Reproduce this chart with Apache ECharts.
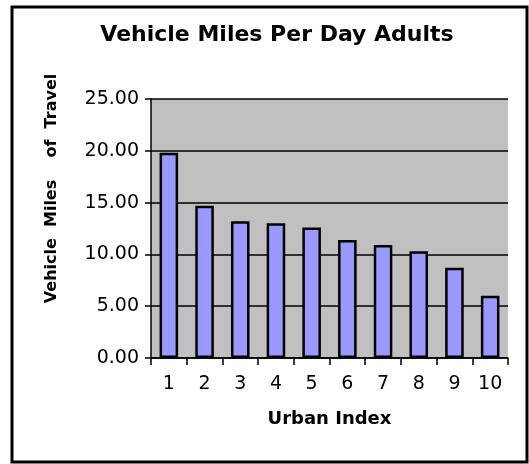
<!DOCTYPE html>
<html>
<head>
<meta charset="utf-8">
<script src="https://cdn.jsdelivr.net/npm/echarts@6/dist/echarts.min.js"></script>
<style>
    html, body { margin: 0; padding: 0; background: #fff; }
    #main { width: 529px; height: 464px; }
</style>
</head>
<body>
<div id="main"></div>
<script>
    var categories = ['1', '2', '3', '4', '5', '6', '7', '8', '9', '10'];
    var milesPerDay = [19.8, 14.7, 13.2, 13.0, 12.6, 11.4, 10.9, 10.3, 8.7, 6.0];
    var yTicks = [0, 5, 10, 15, 20, 25];

    var chart = echarts.init(document.getElementById('main'));

    var font = 'DejaVu Sans, Arial';

    var option = {
        backgroundColor: '#fff',
        animation: false,
        title: {
            text: 'Vehicle Miles Per Day Adults',
            left: 272,
            top: 19,
            textAlign: 'center',
            textStyle: {
                fontFamily: font,
                fontWeight: 'bold',
                fontSize: 22,
                color: '#000'
            }
        },
        graphic: [{
            type: 'rect',
            shape: { x: 12, y: 7, width: 515, height: 455 },
            style: { fill: 'none', stroke: '#000', lineWidth: 3 },
            z: 100
        }],
        grid: {
            left: 151,
            right: 21,
            top: 99,
            bottom: 106,
            show: true,
            backgroundColor: '#c0c0c0',
            borderWidth: 0
        },
        xAxis: {
            type: 'category',
            data: categories,
            name: 'Urban Index',
            nameLocation: 'middle',
            nameGap: 52,
            nameTextStyle: {
                fontFamily: font,
                fontWeight: 'bold',
                fontSize: 18,
                color: '#000'
            },
            axisLine: { lineStyle: { color: '#000', width: 1.5 } },
            axisTick: { show: true, length: 7, lineStyle: { color: '#000', width: 1.5 } },
            axisLabel: {
                margin: 17,
                fontFamily: font,
                fontSize: 19,
                color: '#000'
            }
        },
        yAxis: {
            type: 'value',
            min: yTicks[0],
            max: yTicks[yTicks.length - 1],
            interval: 5,
            name: 'Vehicle  Miles    of  Travel',
            nameLocation: 'middle',
            nameGap: 91,
            nameTextStyle: {
                fontFamily: font,
                fontWeight: 'bold',
                fontSize: 16,
                color: '#000',
                // nudge the rotated name upwards, as in the original
                padding: [0, 0, 0, 80]
            },
            axisLine: { show: true, lineStyle: { color: '#000', width: 1.5 } },
            axisTick: { show: true, length: 6, lineStyle: { color: '#000', width: 1.5 } },
            axisLabel: {
                margin: 12,
                fontFamily: font,
                fontSize: 19,
                color: '#000',
                formatter: function (v) { return v.toFixed(2); }
            },
            splitLine: { show: true, lineStyle: { color: '#000', width: 1.5 } }
        },
        series: [{
            type: 'bar',
            data: milesPerDay,
            barWidth: '52%',
            itemStyle: {
                color: '#9999ff',
                borderColor: '#000',
                borderWidth: 2.5
            }
        }]
    };

    chart.setOption(option);
    window.onresize = chart.resize;
</script>
</body>
</html>
